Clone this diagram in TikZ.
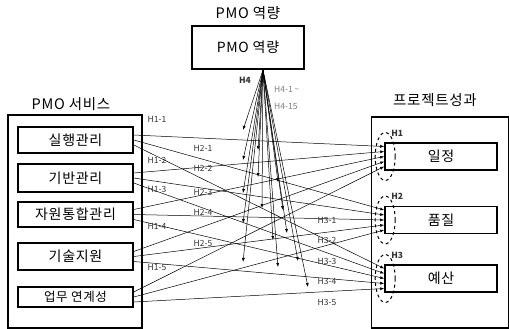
\documentclass[tikz,border=0pt]{standalone}
\usepackage{fontspec}
\setmainfont{Noto Sans CJK KR}
\newfontfamily\boxfont[LetterSpace=5]{Noto Sans CJK KR}
\usetikzlibrary{arrows.meta,shapes.geometric}

\tikzset{
  title/.style={font=\boxfont\fontsize{14.5}{15}\selectfont},
  svcbox/.style={draw, line width=1.6pt, minimum width=115pt, inner sep=0pt,
    font=\boxfont\fontsize{14}{14}\selectfont},
  resbox/.style={draw, line width=1.6pt, minimum width=112pt, minimum height=27pt,
    inner sep=0pt, font=\boxfont\fontsize{14}{14}\selectfont},
  outbox/.style={draw, line width=1.4pt, inner sep=0pt},
  hyp/.style={draw, dashed, ellipse, line width=1pt, minimum width=20pt,
    minimum height=48pt, inner sep=0pt},
  hlabel/.style={font=\fontsize{8.5}{9}\selectfont, text=black!80, inner sep=0pt},
  link/.style={-{Latex[length=4pt,width=3pt]}, line width=0.5pt},
}

\begin{document}
\begin{tikzpicture}[x=1pt,y=-1pt]
\useasboundingbox (0,0) rectangle (509,329);

% ===== 제목 =====
\node[title] (tcap) at (248,13) {PMO 역량};
\node[title] (tsvc) at (71,104) {PMO 서비스};
\node[title] (tres) at (435,100) {프로젝트성과};

% ===== 바깥 상자 =====
\node[outbox, minimum width=134pt, minimum height=213pt] (svc) at (75,221.5) {};
\node[outbox, minimum width=137pt, minimum height=211pt] (res) at (440,222.5) {};
\node[svcbox, minimum width=112pt, minimum height=43pt] (pmo) at (248,47.5) {PMO 역량};

% ===== PMO 서비스 =====
\foreach \i/\y/\h/\t in {1/140/26/실행관리, 2/178/28/기반관리,
    3/214.5/25/자원통합관리, 4/256.5/27/기술지원} {
  \node[svcbox, minimum height=\h] (s\i) at (75.5,\y) {\t};
}
\node[svcbox, minimum height=20pt, font=\boxfont\fontsize{12.5}{13}\selectfont] (s5) at (75.5,297) {업무 연계성};

% ===== 프로젝트 성과 =====
\foreach \j/\y/\t in {1/156.5/일정, 2/220/품질, 3/278.5/예산} {
  \node[resbox] (r\j) at (441,\y) {\t};
  \node[hyp] (e\j) at ([xshift=1pt]r\j.west) {};
  \node[hlabel, font=\fontsize{8.5}{9}\selectfont\bfseries] (h\j) at ([xshift=12pt,yshift=-1pt]e\j.north) {H\j};
}

% ===== 가설 H1 ~ H3 =====
\foreach \i in {1,...,5} {
  \foreach \j in {1,2,3} {
    \pgfmathsetmacro\sy{(\j-2)*5}
    \pgfmathsetmacro\ey{(\i-3)*5}
    \coordinate (a\i\j) at ([yshift=-\sy pt]s\i.east);
    \coordinate (b\i\j) at ([yshift=-\ey pt]r\j.west);
    \draw[link] (a\i\j) -- (b\i\j);
  }
}

% ===== 가설 H4 =====
\coordinate (h4) at ([xshift=15pt]pmo.south);
\foreach \i/\x/\y in {1/243/130, 2/243/160, 3/243/193, 4/243/223, 5/243/262} {
  \coordinate (t\i1) at (\x,\y);
}
\foreach \i/\x/\y in {1/258/150, 2/258/177, 3/262/208, 4/273/240, 5/278/267} {
  \coordinate (t\i2) at (\x,\y);
}
\foreach \i/\x/\y in {1/278/182, 2/283/210, 3/287/233, 4/298/261, 5/308/287} {
  \coordinate (t\i3) at (\x,\y);
}
\foreach \i in {1,...,5} {
  \foreach \j in {1,2,3} {
    \draw[link] (h4) -- (t\i\j);
  }
}
\node[hlabel, font=\fontsize{8.5}{9}\selectfont\bfseries] (h4l) at (245,80) {H4};
\node[hlabel, text=black!50, anchor=west] (h4a) at (274,89) {H4-1 \textasciitilde};
\node[hlabel, text=black!50, anchor=west] (h4b) at (274,106) {H4-15};

% ===== 라벨 =====
\foreach \k/\y in {1/119, 2/160, 3/189, 4/226, 5/267} {
  \node[hlabel] (l1\k) at (157,\y) {H1-\k};
}
\foreach \k/\y in {1/148, 2/168, 3/192, 4/212, 5/243} {
  \node[hlabel] (l2\k) at (203,\y) {H2-\k};
}
\foreach \k/\y in {1/220, 2/240, 3/261, 4/281, 5/302} {
  \node[hlabel] (l3\k) at (327,\y) {H3-\k};
}

\end{tikzpicture}
\end{document}
